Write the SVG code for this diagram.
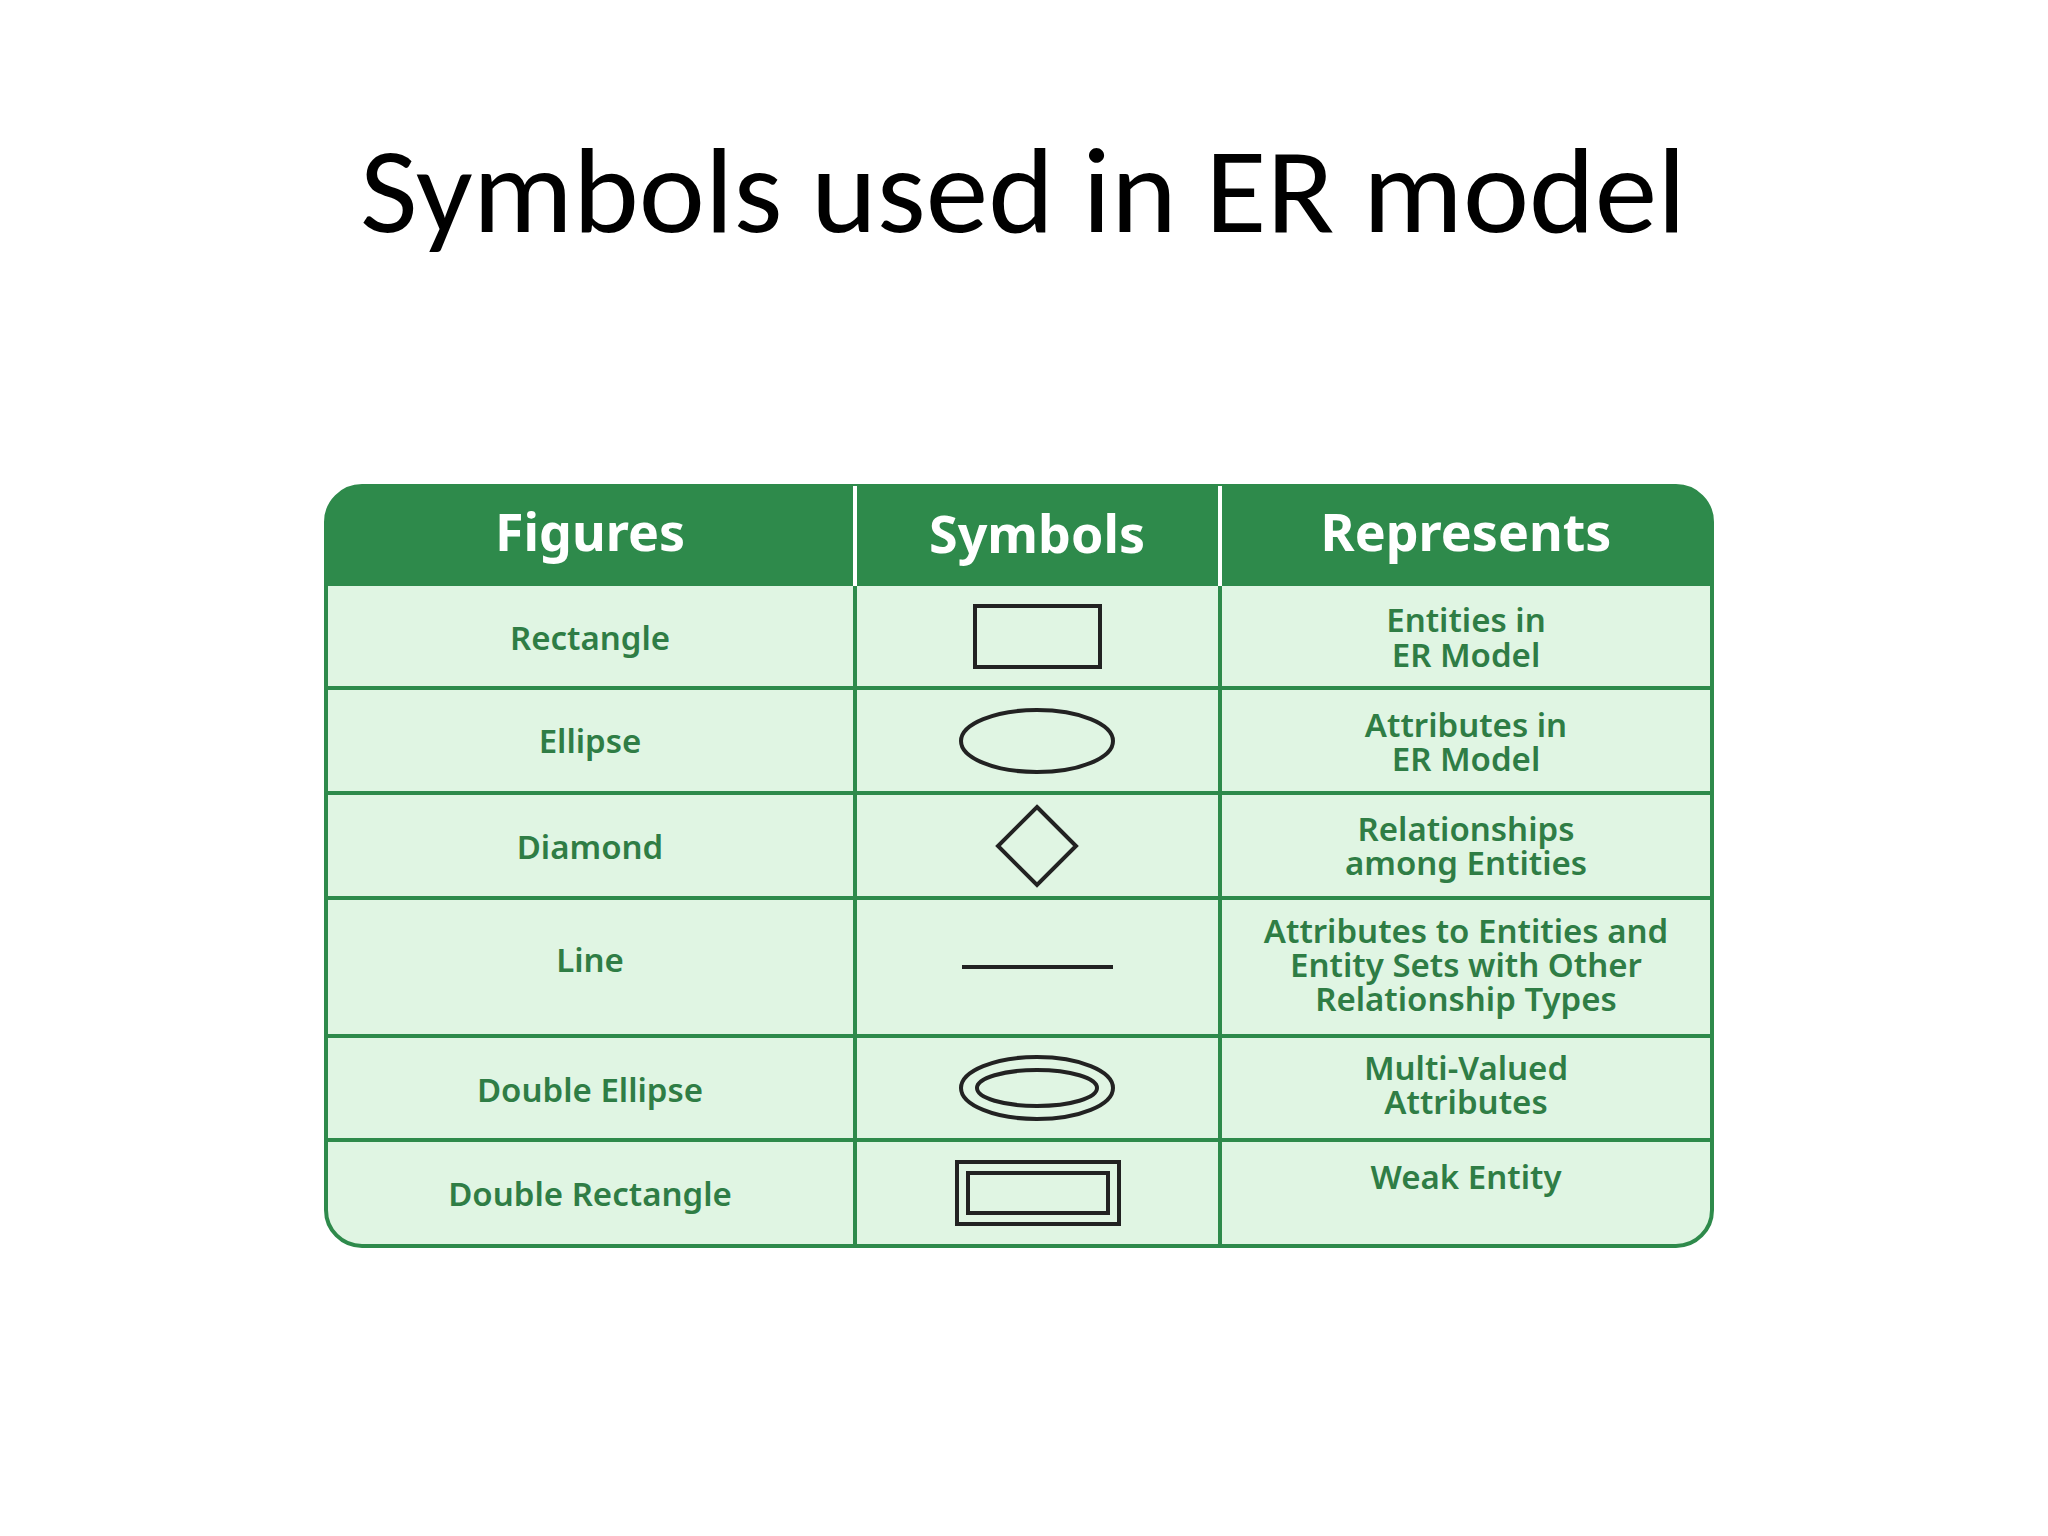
<svg xmlns="http://www.w3.org/2000/svg" width="2048" height="1536" viewBox="0 0 2048 1536">
<style>
.t{font-family:"Noto Sans","Open Sans",sans-serif;font-weight:600;font-size:33px;fill:#2f7d45;text-anchor:middle}
.h{font-family:"Noto Sans","Open Sans",sans-serif;font-weight:700;font-size:52px;fill:#fff;text-anchor:middle}
.g{stroke:#2e8a4b;stroke-width:4;fill:none}
.s{stroke:#222;stroke-width:4;fill:none}
</style>
<rect width="2048" height="1536" fill="#fff"/>
<text x="1023" y="232" font-family="Carlito,'Liberation Sans',sans-serif" font-size="122" text-anchor="middle" textLength="1326" lengthAdjust="spacingAndGlyphs" fill="#000">Symbols used in ER model</text>
<g id="table">
<rect x="326" y="486" width="1386" height="760" rx="36" fill="#e0f5e3" stroke="#2e8a4b" stroke-width="4"/>
<path d="M326,586 V522 A36,36 0 0 1 362,486 H1676 A36,36 0 0 1 1712,522 V586 Z" fill="#2e8a4b"/>
<path class="g" d="M326,688H1712M326,793H1712M326,898H1712M326,1036H1712M326,1140H1712"/>
<path d="M855,486V1246M1220,486V1246" stroke="#2e8a4b" stroke-width="4"/>
<path d="M855,486V586M1220,486V586" stroke="#fff" stroke-width="4"/>
<text class="h" x="590" y="551">Figures</text>
<text class="h" x="1037" y="553">Symbols</text>
<text class="h" x="1466" y="551">Represents</text>
</g>
<g id="row1"><text class="t" x="590" y="650">Rectangle</text><rect class="s" x="975" y="606" width="125" height="61"/><text class="t" x="1466" y="632">Entities in</text><text class="t" x="1466" y="667">ER Model</text></g>
<g id="row2"><text class="t" x="590" y="753">Ellipse</text><ellipse class="s" cx="1037" cy="741" rx="76" ry="31"/><text class="t" x="1466" y="737">Attributes in</text><text class="t" x="1466" y="771">ER Model</text></g>
<g id="row3"><text class="t" x="590" y="859">Diamond</text><polygon class="s" points="1037,807 1076,846 1037,885 998,846"/><text class="t" x="1466" y="841">Relationships</text><text class="t" x="1466" y="875">among Entities</text></g>
<g id="row4"><text class="t" x="590" y="972">Line</text><line class="s" x1="962" y1="967" x2="1113" y2="967"/><text class="t" x="1466" y="943">Attributes to Entities and</text><text class="t" x="1466" y="977">Entity Sets with Other</text><text class="t" x="1466" y="1011">Relationship Types</text></g>
<g id="row5"><text class="t" x="590" y="1102">Double Ellipse</text><ellipse class="s" cx="1037" cy="1088" rx="76" ry="31"/><ellipse class="s" cx="1037" cy="1088" rx="60" ry="18"/><text class="t" x="1466" y="1080">Multi-Valued</text><text class="t" x="1466" y="1114">Attributes</text></g>
<g id="row6"><text class="t" x="590" y="1206">Double Rectangle</text><rect class="s" x="957" y="1162" width="162" height="62"/><rect class="s" x="968" y="1173" width="140" height="40"/><text class="t" x="1466" y="1189">Weak Entity</text></g>
</svg>
